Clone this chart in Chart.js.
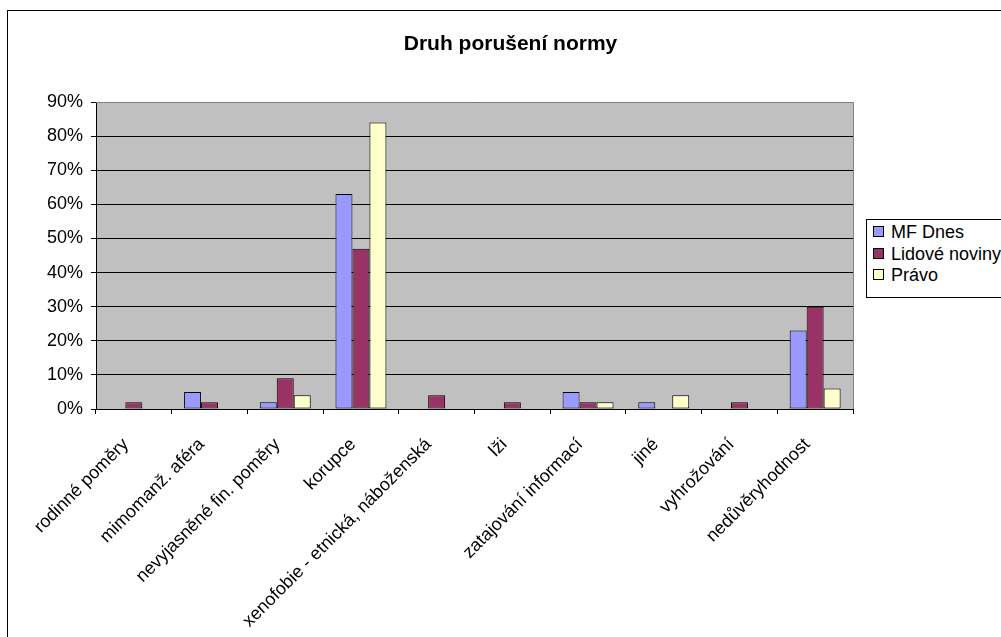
<!DOCTYPE html>
<html>
<head>
<meta charset="utf-8">
<script src="https://cdn.jsdelivr.net/npm/chart.js@4"></script>
<style>
  html, body { margin:0; padding:0; background:#fff; overflow:hidden; width:1001px; height:637px; }
  #frame { position:absolute; left:7px; top:10px; width:1010px; height:640px; border:1px solid #000; box-sizing:border-box; background:#fff; }
  #cv { position:absolute; left:0; top:0; }
  #title { position:absolute; left:0; top:20px; width:1005px; text-align:center; font:bold 21px "Liberation Sans", Arial, sans-serif; line-height:24px; color:#000; }
  #legend { position:absolute; left:858px; top:208px; width:170px; height:79px; border:1px solid #000; box-sizing:border-box; background:#fff; font:18px "Liberation Sans", Arial, sans-serif; color:#000; }
  .row { position:absolute; left:6px; height:21px; line-height:21px; white-space:nowrap; }
  .sw { display:inline-block; width:9px; height:9px; border:1px solid #000; margin-right:7px; vertical-align:1px; }
</style>
</head>
<body>
<div id="frame">
  <canvas id="cv"></canvas>
  <div id="title">Druh porušení normy</div>
  <div id="legend"></div>
</div>
<script>
const categories = ["rodinné poměry", "mimomanž. aféra", "nevyjasněné fin. poměry", "korupce", "xenofobie - etnická, náboženská", "lži", "zatajování informací", "jiné", "vyhrožování", "nedůvěryhodnost"];
const seriesNames = ["MF Dnes", "Lidové noviny", "Právo"];
const mfDnes = [0, 5, 2, 63, 0, 0, 5, 2, 0, 23];
const lidoveNoviny = [2, 2, 9, 47, 4, 2, 2, 0, 2, 30];
const pravo = [0, 0, 4, 84, 0, 0, 2, 4, 0, 6];
const colors = ["#9999FF", "#993366", "#FFFFCC"];
const yTicks = [0, 10, 20, 30, 40, 50, 60, 70, 80, 90];

const FONT = '"Liberation Sans", Arial, sans-serif';

const cv = document.getElementById('cv');
cv.width = 1008; cv.height = 638;
cv.style.width = '1008px'; cv.style.height = '638px';

const plotBg = {
  id: 'plotBg',
  beforeDraw(chart) {
    const a = chart.chartArea, ctx = chart.ctx;
    ctx.save();
    ctx.fillStyle = '#C0C0C0';
    ctx.fillRect(a.left, a.top, a.right - a.left, a.bottom - a.top);
    ctx.restore();
  },
  afterDraw(chart) {
    const a = chart.chartArea, ctx = chart.ctx;
    ctx.save();
    ctx.strokeStyle = '#808080';
    ctx.lineWidth = 1;
    ctx.beginPath();
    ctx.moveTo(a.left, Math.round(a.top) + 0.5);
    ctx.lineTo(Math.round(a.right) + 0.5, Math.round(a.top) + 0.5);
    ctx.lineTo(Math.round(a.right) + 0.5, a.bottom);
    ctx.stroke();
    ctx.restore();
  }
};

const datasets = [mfDnes, lidoveNoviny, pravo].map((d, i) => ({
  label: seriesNames[i],
  data: d,
  backgroundColor: colors[i],
  borderColor: '#000',
  borderWidth: 1,
  borderSkipped: false,
  categoryPercentage: 0.673,
  barPercentage: 1.0
}));

new Chart(cv, {
  type: 'bar',
  data: { labels: categories, datasets },
  options: {
    responsive: false,
    animation: false,
    devicePixelRatio: 1,
    layout: { padding: { top: 91, right: 163, left: 0, bottom: 0 } },
    plugins: { legend: { display: false }, title: { display: false }, tooltip: { enabled: false } },
    scales: {
      x: {
        offset: true,
        grid: { display: true, offset: true, drawOnChartArea: false, color: '#000', tickLength: 5, tickColor: '#000' },
        border: { display: true, color: '#000', width: 1 },
        ticks: { color: '#000', font: { family: FONT, size: 18 }, maxRotation: 45, minRotation: 45, autoSkip: false, padding: 20, labelOffset: -8 },
        afterFit(scale) { scale.height = 240; }
      },
      y: {
        min: 0, max: 90,
        afterBuildTicks(scale) { scale.ticks = yTicks.map(v => ({ value: v })); },
        grid: { color: '#000', lineWidth: 1, tickLength: 5, tickColor: '#000' },
        border: { display: true, color: '#000', width: 1 },
        ticks: { color: '#000', font: { family: FONT, size: 18 }, padding: 8, callback: v => v + '%' },
        afterFit(scale) { scale.width = 88; }
      }
    }
  },
  plugins: [plotBg]
});

const leg = document.getElementById('legend');
seriesNames.forEach((n, i) => {
  const r = document.createElement('div');
  r.className = 'row';
  r.style.top = (2 + i * 21.5) + 'px';
  r.innerHTML = '<span class="sw" style="background:' + colors[i] + '"></span>' + n;
  leg.appendChild(r);
});
</script>
</body>
</html>
